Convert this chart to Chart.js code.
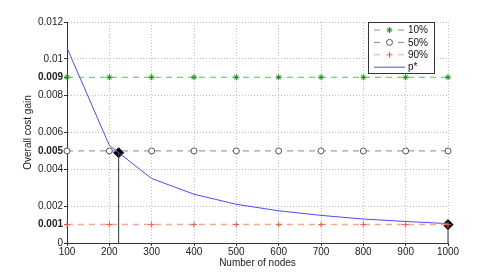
<!DOCTYPE html>
<html>
<head>
<meta charset="utf-8">
<script src="https://cdn.jsdelivr.net/npm/chart.js@4.4.0/dist/chart.umd.min.js"></script>
<style>
  body { margin: 0; background: #fff; }
  canvas { display: block; }
</style>
</head>
<body>
<canvas id="gainChart" width="491" height="273"></canvas>
<script>
const nodes = [100, 200, 300, 400, 500, 600, 700, 800, 900, 1000];
const pStar = [0.0106, 0.0053, 0.0035, 0.00265, 0.0021, 0.00175, 0.0015, 0.0013, 0.00117, 0.00105];
const gain10 = [0.009, 0.009, 0.009, 0.009, 0.009, 0.009, 0.009, 0.009, 0.009, 0.009];
const gain50 = [0.005, 0.005, 0.005, 0.005, 0.005, 0.005, 0.005, 0.005, 0.005, 0.005];
const gain90 = [0.001, 0.001, 0.001, 0.001, 0.001, 0.001, 0.001, 0.001, 0.001, 0.001];
const markNodes = [222, 1000];
const markGain = [0.0049, 0.001];
const yTicks = [0, 0.001, 0.002, 0.004, 0.005, 0.006, 0.008, 0.009, 0.01, 0.012];
const boldTicks = [0.001, 0.005, 0.009];

const FONT = "'Liberation Sans', Arial, Helvetica, sans-serif";

const colors = {
  g10: "#5cb85c",
  g10mark: "#1d8a1d",
  g50: "#888888",
  g50mark: "#555555",
  g90: "#f4a898",
  g90mark: "#e0604a",
  p: "#4a4aff",
};

const toXY = (ys, xs = nodes) => xs.map((x, i) => ({ x, y: ys[i] }));
const isBold = (v) => boldTicks.some((b) => Math.abs(b - v) < 1e-9);
const noBottomClip = { left: 8, right: 8, top: 8, bottom: 0 };

const legendItems = [
  { label: "10%", color: colors.g10, mark: colors.g10mark, style: "star", dash: [6, 5] },
  { label: "50%", color: colors.g50, mark: colors.g50mark, style: "circle", dash: [6, 5] },
  { label: "90%", color: colors.g90, mark: colors.g90mark, style: "cross", dash: [6, 5] },
  { label: "p*", color: colors.p, style: null, dash: [] },
];

// legend drawn inside the plot, top right, like the original figure
const boxLegend = {
  id: "boxLegend",
  afterDraw(chart) {
    const ctx = chart.ctx;
    const left = 368, top = 22, w = 66, h = 51;
    ctx.save();
    ctx.fillStyle = "#fff";
    ctx.fillRect(left, top, w, h);
    ctx.strokeStyle = "#333";
    ctx.lineWidth = 1;
    ctx.strokeRect(left + 0.5, top + 0.5, w, h);
    ctx.font = "10px " + FONT;
    ctx.textBaseline = "middle";
    legendItems.forEach((it, i) => {
      const y = top + 8 + i * 12.4;
      ctx.strokeStyle = it.color;
      ctx.lineWidth = 1;
      ctx.setLineDash(it.dash);
      ctx.beginPath();
      if (it.style) {
        ctx.moveTo(374, y); ctx.lineTo(381, y);
        ctx.moveTo(398, y); ctx.lineTo(405, y);
      } else {
        ctx.moveTo(374, y); ctx.lineTo(405, y);
      }
      ctx.stroke();
      ctx.setLineDash([]);
      if (it.style) {
        ctx.strokeStyle = it.mark;
        ctx.fillStyle = it.style === "circle" ? "rgba(0,0,0,0)" : it.mark;
        Chart.helpers.drawPoint(ctx, { pointStyle: it.style, radius: 3, rotation: 0, borderWidth: 1 }, 389.5, y);
      }
      ctx.fillStyle = "#111";
      ctx.fillText(it.label, 408, y + 0.5);
    });
    ctx.restore();
  },
};

new Chart(document.getElementById("gainChart"), {
  type: "line",
  data: {
    datasets: [
      {
        label: "10%",
        data: toXY(gain10),
        borderColor: colors.g10,
        borderWidth: 1,
        borderDash: [6, 5],
        pointStyle: "star",
        pointRadius: 3,
        pointBorderColor: colors.g10mark,
        pointBorderWidth: 1,
        clip: false,
      },
      {
        label: "50%",
        data: toXY(gain50),
        borderColor: colors.g50,
        borderWidth: 1,
        borderDash: [6, 5],
        pointStyle: "circle",
        pointRadius: 3,
        pointBackgroundColor: "#fff",
        pointBorderColor: colors.g50mark,
        pointBorderWidth: 1,
        clip: false,
      },
      {
        label: "90%",
        data: toXY(gain90),
        borderColor: colors.g90,
        borderWidth: 1.5,
        borderDash: [6, 5],
        pointStyle: "cross",
        pointRadius: 3,
        pointBorderColor: colors.g90mark,
        pointBorderWidth: 1,
        clip: false,
      },
      {
        label: "p*",
        data: toXY(pStar),
        borderColor: colors.p,
        borderWidth: 1,
        pointRadius: 0,
        clip: false,
      },
      {
        label: "drop1",
        data: [{ x: markNodes[0], y: 0 }, { x: markNodes[0], y: markGain[0] }],
        borderColor: "#333",
        borderWidth: 1,
        pointRadius: 0,
        clip: noBottomClip,
      },
      {
        label: "drop2",
        data: [{ x: markNodes[1], y: 0 }, { x: markNodes[1], y: markGain[1] }],
        borderColor: "#333",
        borderWidth: 1,
        pointRadius: 0,
        clip: noBottomClip,
      },
      {
        label: "marks",
        data: toXY(markGain, markNodes),
        showLine: false,
        pointStyle: "rectRot",
        pointRadius: 5,
        pointBackgroundColor: "#000",
        pointBorderColor: "#000",
        pointBorderWidth: 1,
        clip: false,
      },
    ],
  },
  options: {
    responsive: false,
    animation: false,
    layout: { padding: { left: 0, top: 22, right: 43, bottom: 0 } },
    plugins: {
      legend: { display: false },
      tooltip: { enabled: false },
    },
    scales: {
      x: {
        type: "linear",
        min: 100,
        max: 1000,
        ticks: {
          stepSize: 100,
          maxRotation: 0,
          padding: 0,
          color: "#222",
          font: { family: FONT, size: 10 },
          callback: (v) => String(v),
        },
        grid: {
          color: "#bdbdbd",
          tickColor: "#333",
          tickLength: 3,
        },
        border: { display: true, color: "#333", width: 1, dash: [1, 2] },
        title: {
          display: true,
          text: "Number of nodes",
          color: "#222",
          font: { family: FONT, size: 10 },
          padding: { top: 0, bottom: 4 },
        },
        afterFit: (scale) => { scale.height = 30; },
      },
      y: {
        type: "linear",
        min: 0,
        max: 0.012,
        afterBuildTicks: (scale) => {
          scale.ticks = yTicks.map((v) => ({ value: v }));
        },
        ticks: {
          padding: 1,
          color: "#222",
          font: (c) => ({ family: FONT, size: 10, weight: c.tick && isBold(c.tick.value) ? "bold" : "normal" }),
          callback: (v) => String(Number(Number(v).toFixed(4))),
        },
        grid: {
          color: (c) => (c.tick && (isBold(c.tick.value) || c.tick.value === 0) ? "rgba(0,0,0,0)" : "#bdbdbd"),
          tickColor: "#333",
          tickLength: 3,
        },
        border: { display: true, color: "#333", width: 1, dash: [1, 2] },
        title: {
          display: true,
          text: "Overall cost gain",
          color: "#222",
          font: { family: FONT, size: 10 },
          padding: { top: 22, bottom: 0 },
        },
        afterFit: (scale) => { scale.width = 67; },
      },
    },
  },
  plugins: [boxLegend],
});
</script>
</body>
</html>
